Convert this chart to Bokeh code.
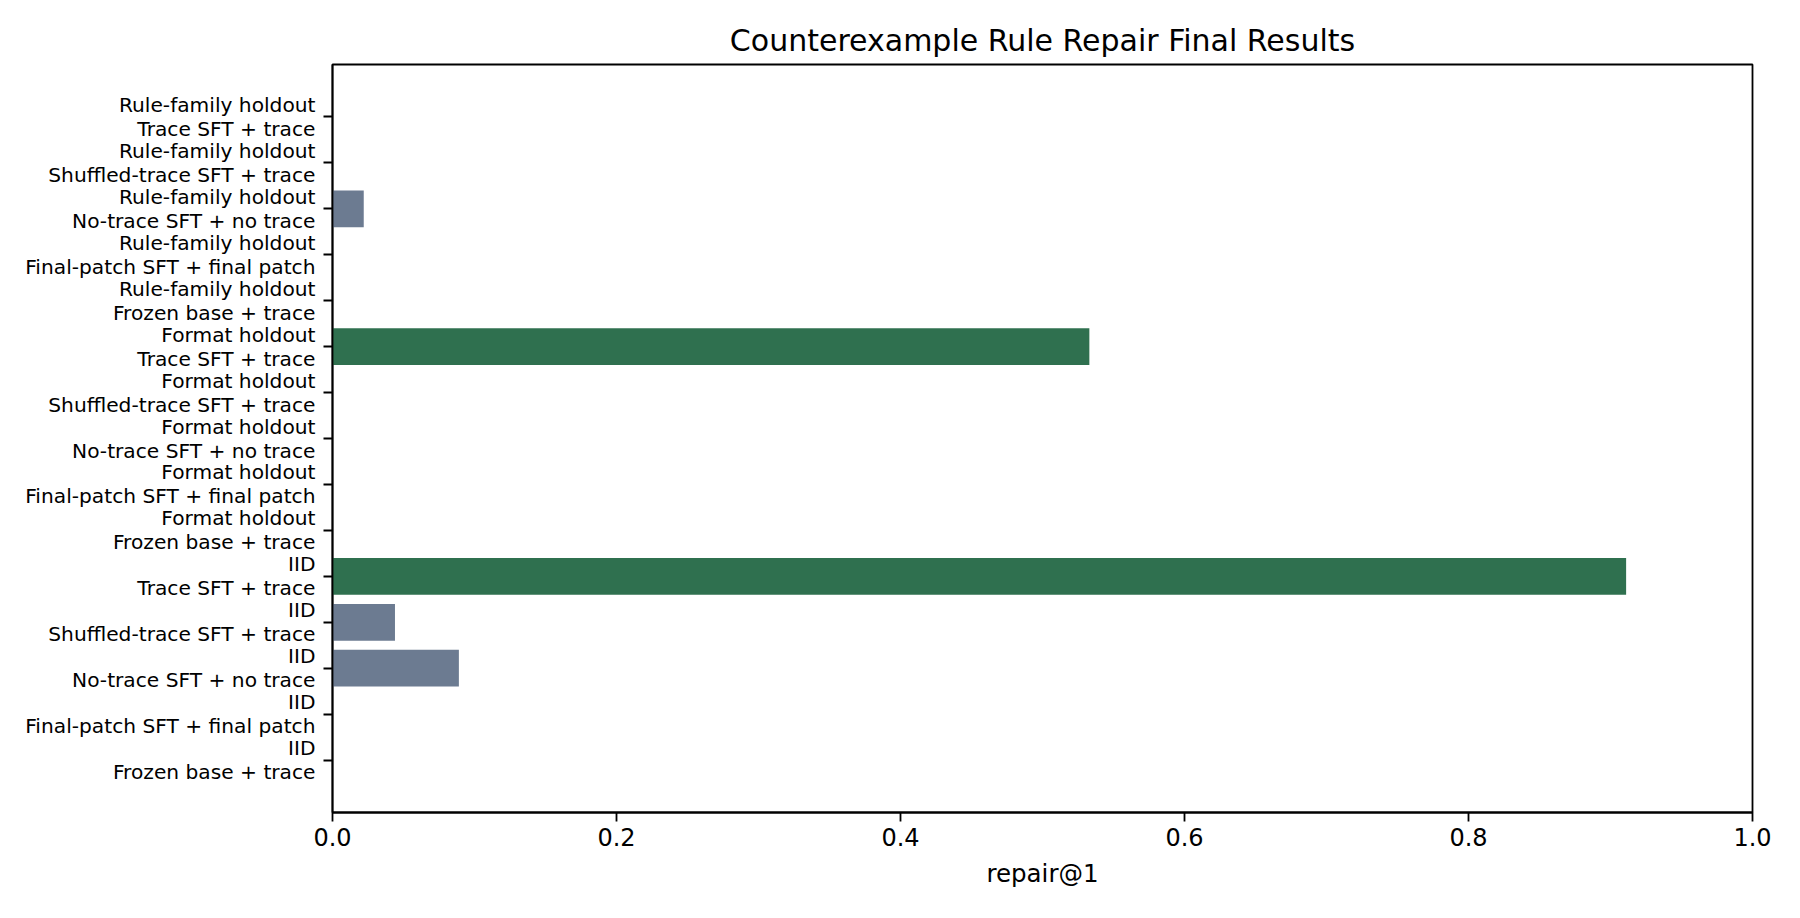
from bokeh.plotting import figure
from bokeh.models import ColumnDataSource, FixedTicker, PrintfTickFormatter, Range1d
from bokeh.embed import file_html
from bokeh.resources import INLINE

# repair@1 per split and method
splits = ["IID", "Format holdout", "Rule-family holdout"]
methods = ["Frozen base + trace", "Final-patch SFT + final patch",
           "No-trace SFT + no trace", "Shuffled-trace SFT + trace", "Trace SFT + trace"]
iid_repair = [0.0, 0.0, 0.089, 0.044, 0.911]
format_repair = [0.0, 0.0, 0.0, 0.0, 0.533]
rule_repair = [0.0, 0.0, 0.022, 0.0, 0.0]

x_ticks = [0.0, 0.2, 0.4, 0.6, 0.8, 1.0]

GREEN = "#2f704f"
GREY = "#6c7b91"
FONT = "DejaVu Sans"

labels, vals, cols = [], [], []
for split, row in zip(splits, [iid_repair, format_repair, rule_repair]):
    for m, v in zip(methods, row):
        labels.append(split + "\n" + m)
        vals.append(v)
        cols.append(GREEN if m == "Trace SFT + trace" else GREY)
ys = list(range(len(labels)))

src = ColumnDataSource(dict(y=ys, v=vals, c=cols))

p = figure(width=1784, height=902, output_backend="svg", toolbar_location=None,
           title="Counterexample Rule Repair Final Results",
           x_range=Range1d(0, 1), y_range=Range1d(-1.14, len(labels) - 1 + 1.14),
           min_border_left=332, min_border_right=32, min_border_top=64, min_border_bottom=90)
p.frame_width = 1420
p.frame_height = 748

p.hbar(y="y", right="v", left=0, height=0.8, fill_color="c", line_color=None, source=src)

p.title.align = "center"
p.title.text_font = FONT
p.title.text_font_size = "30px"
p.title.text_font_style = "normal"
p.title.text_color = "black"
p.title.standoff = 14

p.grid.visible = False
p.outline_line_color = "black"
p.outline_line_width = 1.8
p.outline_line_alpha = 1

for ax in (p.xaxis[0], p.yaxis[0]):
    ax.axis_line_color = "black"
    ax.axis_line_width = 1.8
    ax.major_tick_line_color = "black"
    ax.major_tick_line_width = 1.8
    ax.major_tick_in = 0
    ax.major_tick_out = 9
    ax.minor_tick_line_color = None
    ax.major_label_standoff = 8
    ax.major_label_text_font = FONT
    ax.major_label_text_color = "black"

p.xaxis.ticker = FixedTicker(ticks=x_ticks)
p.xaxis.formatter = PrintfTickFormatter(format="%.1f")
p.xaxis.major_label_text_font_size = "24px"
p.xaxis.major_label_standoff = 6
p.xaxis.axis_label = "repair@1"
p.xaxis.axis_label_text_font = FONT
p.xaxis.axis_label_text_font_size = "24.5px"
p.xaxis.axis_label_text_font_style = "normal"
p.xaxis.axis_label_text_color = "black"
p.xaxis.axis_label_standoff = 10

p.yaxis.ticker = FixedTicker(ticks=ys)
p.yaxis.major_label_overrides = {y: lab for y, lab in zip(ys, labels)}
p.yaxis.major_label_text_font_size = "20.2px"
p.yaxis.major_label_text_align = "right"
p.yaxis.major_label_text_line_height = 1.0

open("out.html", "w").write(file_html(p, INLINE))
